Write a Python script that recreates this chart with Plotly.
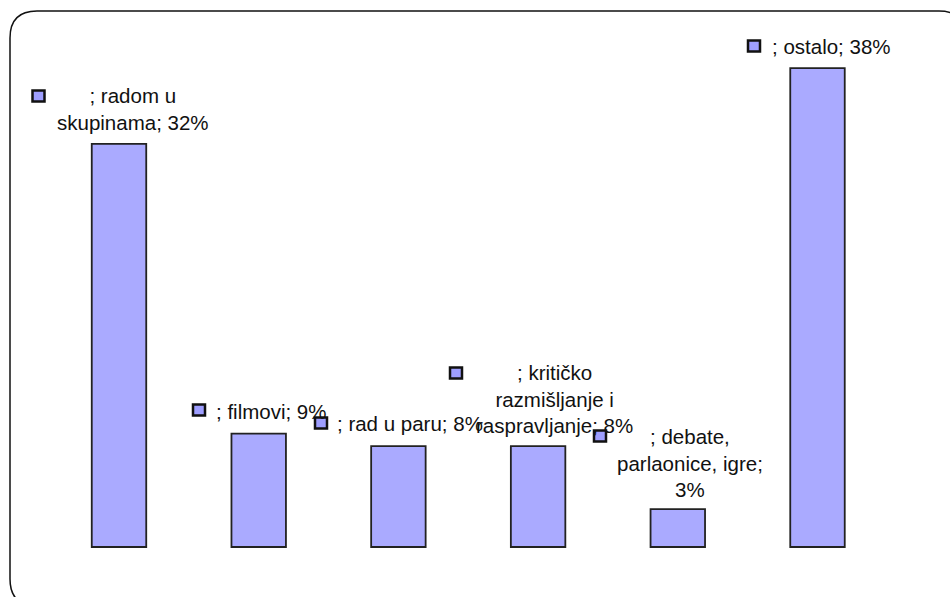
import plotly.graph_objects as go

# ---- data ----
categories = ["radom u skupinama", "filmovi", "rad u paru",
              "kritičko razmišljanje i raspravljanje",
              "debate, parlaonice, igre", "ostalo"]
values = [32, 9, 8, 8, 3, 38]
label_texts = ["; radom u<br>skupinama; 32%", "; filmovi; 9%", "; rad u paru; 8%",
               "; kritičko<br>razmišljanje i<br>raspravljanje; 8%",
               "; debate,<br>parlaonice, igre;<br>3%", "; ostalo; 38%"]

# ---- layout geometry (pixels) ----
W, H = 950, 597
label_pos = [(133, 108.5), (271, 411), (410, 423), (554, 399), (690, 462.5), (831, 47)]
key_pos = [(38.5, 96), (199, 410), (321, 423), (456, 373), (600, 436), (754, 46)]

def px(x):
    return x / W

def py(y):
    return 1 - y / H

BAR_FILL = "#AAAAFF"
EDGE = "#222222"

fig = go.Figure()
fig.add_trace(go.Bar(
    x=list(range(len(categories))), y=values, width=0.39,
    marker=dict(color=BAR_FILL, line=dict(color=EDGE, width=1.8)),
    hovertext=categories, showlegend=False,
))

annotations = []
for t, (lx, ly) in zip(label_texts, label_pos):
    annotations.append(dict(
        x=px(lx), y=py(ly), xref="paper", yref="paper", text=t, showarrow=False,
        xanchor="center", yanchor="middle", align="center",
        font=dict(family="Liberation Sans, Arial, sans-serif", size=20.5, color="#111111"),
    ))

shapes = []
for kx, ky in key_pos:
    shapes.append(dict(
        type="rect", xref="paper", yref="paper",
        x0=px(kx - 6), x1=px(kx + 6), y0=py(ky + 5.5), y1=py(ky - 5.5),
        fillcolor="#9E9EFF", line=dict(color="#111111", width=2.5),
    ))

# rounded outer frame
L, T, R, B, r = 10, 11, 966, 606, 27
path = (f"M {px(L)},{py(T + r)} "
        f"Q {px(L)},{py(T)} {px(L + r)},{py(T)} "
        f"L {px(R - r)},{py(T)} "
        f"Q {px(R)},{py(T)} {px(R)},{py(T + r)} "
        f"L {px(R)},{py(B - r)} "
        f"Q {px(R)},{py(B)} {px(R - r)},{py(B)} "
        f"L {px(L + r)},{py(B)} "
        f"Q {px(L)},{py(B)} {px(L)},{py(B - r)} Z")
shapes.insert(0, dict(type="path", xref="paper", yref="paper", path=path,
                      line=dict(color="#111111", width=1.5), fillcolor="rgba(0,0,0,0)"))

# axis ranges so that bar centres fall at 119 + 139.7*i px and baseline at 547 px
x_step = 139.7
x0_px = 119
y_scale = 12.6
base_px = 547
fig.update_layout(
    width=W, height=H, margin=dict(l=0, r=0, t=0, b=0),
    paper_bgcolor="white", plot_bgcolor="white",
    xaxis=dict(range=[-x0_px / x_step, (W - x0_px) / x_step], visible=False, fixedrange=True),
    yaxis=dict(range=[-(H - base_px) / y_scale, base_px / y_scale], visible=False, fixedrange=True),
    annotations=annotations, shapes=shapes, showlegend=False,
)

fig.write_html("out.html", config={"displayModeBar": False},
               post_script="document.body.style.margin='0';")
